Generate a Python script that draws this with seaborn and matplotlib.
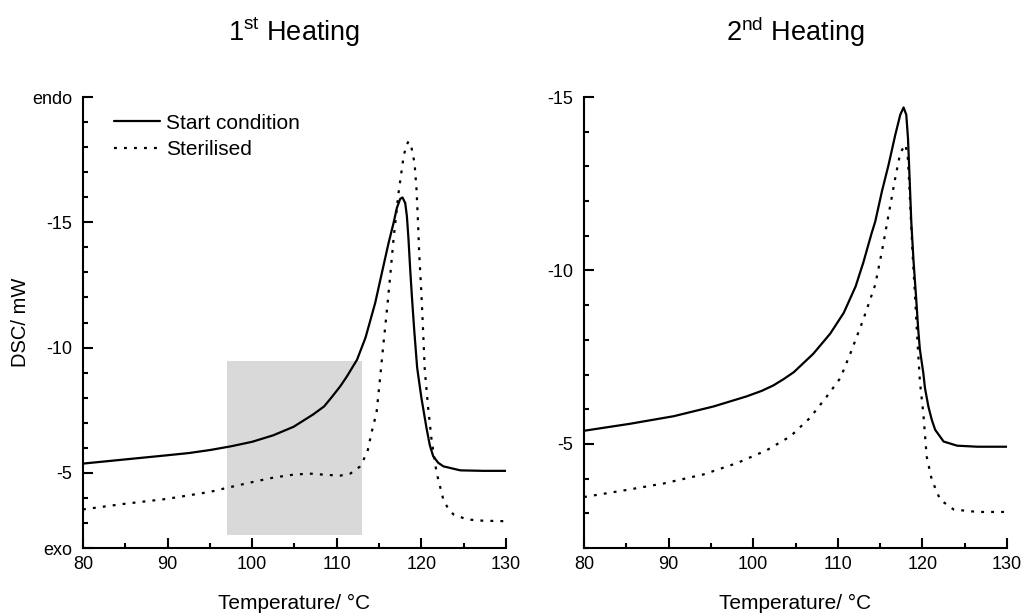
import numpy as np
import pandas as pd
import matplotlib
matplotlib.use("Agg")
import matplotlib.pyplot as plt
from matplotlib.ticker import MultipleLocator
import seaborn as sns

# 1st heating, start condition (temperature in degC, DSC in mW)
t1_start = [80, 84.8, 89.9, 92.5, 95.0, 97.5, 100.0, 102.5, 104.9, 107.2, 108.5, 109.4, 110.4,
            111.2, 112.4, 113.4, 114.54, 115.33, 116.12, 116.71, 117.1, 117.5, 117.77,
            118.09, 118.29, 118.48, 118.68, 118.88, 119.15, 119.5, 120.0, 120.6, 121.0,
            121.4, 122.0, 122.6, 124.6, 127.3, 130]
d1_start = [-5.37, -5.53, -5.70, -5.79, -5.91, -6.06, -6.24, -6.50, -6.84, -7.33, -7.65, -8.02,
            -8.45, -8.85, -9.52, -10.40, -11.78, -12.98, -14.17, -14.97, -15.57, -15.94, -15.99,
            -15.77, -15.24, -14.31, -13.11, -12.04, -10.72, -9.20, -8.00, -6.80, -6.10,
            -5.66, -5.40, -5.26, -5.10, -5.08, -5.08]

# 1st heating, sterilised
t1_ster = [80, 84.8, 89.9, 95.0, 97.0, 100.0, 102.5, 104.9, 106.8, 108.8, 110.4, 111.6,
           112.7, 113.6, 114.1, 114.7, 115.1, 115.5, 115.9, 116.3, 116.7, 117.3, 117.9,
           118.2, 118.48, 118.8, 119.19, 119.43, 119.59, 119.74, 119.98, 120.18, 120.4,
           120.8, 121.2, 121.8, 122.6, 123.2, 123.8, 125.4, 127.3, 130]
d1_ster = [-3.54, -3.76, -3.96, -4.24, -4.40, -4.63, -4.81, -4.93, -4.97, -4.92, -4.89, -4.97,
           -5.24, -5.80, -6.60, -7.40, -8.72, -10.10, -11.40, -12.80, -14.30, -16.17, -17.63,
           -18.05, -18.23, -18.03, -17.37, -16.30, -15.10, -13.78, -12.31, -10.85, -9.12,
           -7.60, -6.33, -5.00, -3.93, -3.55, -3.34, -3.14, -3.09, -3.07]

# 2nd heating, start condition
t2_start = [80, 85.4, 90.6, 95.3, 99.2, 101.0, 102.4, 103.6, 104.8, 107.1, 109.1, 110.7, 112.1,
            113.0, 114.0, 114.42, 115.21, 116.0, 116.79, 117.38, 117.77, 118.09, 118.29, 118.48,
            118.68, 118.95, 119.23, 119.5, 119.7, 120.1, 120.3, 120.7, 121.1, 121.5, 122.5,
            124.1, 126.5, 130]
d2_start = [-5.38, -5.58, -5.80, -6.08, -6.37, -6.53, -6.69, -6.87, -7.07, -7.60, -8.18, -8.78,
            -9.54, -10.22, -11.08, -11.41, -12.28, -13.05, -13.91, -14.49, -14.70, -14.49, -13.82,
            -12.67, -11.41, -10.26, -9.30, -8.30, -7.72, -7.05, -6.61, -6.08, -5.70, -5.41, -5.07,
            -4.95, -4.92, -4.92]

# 2nd heating, sterilised
t2_ster = [80, 84.7, 89.4, 94.1, 98.1, 101.6, 104.4, 106.7, 108.7, 110.3, 111.5, 113.0,
           114.42, 115.21, 116.0, 116.79, 117.38, 117.97, 118.25, 118.45, 118.65, 118.84,
           119.07, 119.4, 119.7, 120.1, 120.5, 121.1, 122.1, 123.7, 126.5, 130]
d2_ster = [-3.47, -3.66, -3.86, -4.12, -4.45, -4.82, -5.22, -5.75, -6.37, -6.90, -7.62, -8.58,
           -9.59, -10.55, -11.61, -12.67, -13.39, -13.63, -13.34, -12.47, -11.41, -10.46,
           -9.50, -8.01, -6.80, -5.89, -4.64, -3.97, -3.39, -3.11, -3.04, -3.04]

series_labels = ["Start condition", "Sterilised"]
panel_titles = [r"1$^{\mathrm{st}}$ Heating", r"2$^{\mathrm{nd}}$ Heating"]
x_label = "Temperature/ \u00b0C"
y_label = "DSC/ mW"

# shaded region in the first panel
shade_t = [97, 113]
shade_d = (-9.45, -2.5)

left_yticks = [-20, -15, -10, -5, -2]
left_yticklabels = ["endo", "-15", "-10", "-5", "exo"]
right_yticks = [-15, -10, -5]

sns.set_style("ticks")
plt.rcParams["font.family"] = ["Liberation Sans", "DejaVu Sans"]
plt.rcParams["mathtext.fontset"] = "custom"
plt.rcParams["mathtext.rm"] = "Liberation Sans"
plt.rcParams["axes.linewidth"] = 1.5
plt.rcParams["axes.unicode_minus"] = False
plt.rcParams["text.color"] = "black"
plt.rcParams["axes.labelcolor"] = "black"
plt.rcParams["xtick.color"] = "black"
plt.rcParams["ytick.color"] = "black"
plt.rcParams["axes.edgecolor"] = "black"

fig = plt.figure(figsize=(10.23, 6.13), dpi=100)
ax1 = fig.add_axes([0.0811, 0.106, 0.4135, 0.7357])
ax2 = fig.add_axes([0.5709, 0.106, 0.4135, 0.7357])

dotted = (0, (1.3, 3.2))

panels = [(ax1, t1_start, d1_start, t1_ster, d1_ster),
          (ax2, t2_start, d2_start, t2_ster, d2_ster)]

for ax, ts, ds, tt, dt in panels:
    df_s = pd.DataFrame({"T": ts, "DSC": ds})
    df_t = pd.DataFrame({"T": tt, "DSC": dt})
    sns.lineplot(data=df_s, x="T", y="DSC", ax=ax, color="black", lw=1.6,
                 label=series_labels[0])
    sns.lineplot(data=df_t, x="T", y="DSC", ax=ax, color="black", lw=1.6,
                 linestyle=dotted, label=series_labels[1])
    ax.set_xlim(80, 130)
    ax.xaxis.set_major_locator(MultipleLocator(10))
    ax.xaxis.set_minor_locator(MultipleLocator(5))
    ax.yaxis.set_minor_locator(MultipleLocator(1))
    ax.tick_params(which="major", direction="in", length=7, width=1.5,
                   labelsize=13, pad=7.5)
    ax.tick_params(which="minor", direction="in", length=3.5, width=1.5)
    ax.tick_params(axis="x", which="major", pad=6)
    sns.despine(ax=ax)
    ax.set_xlabel(x_label, fontsize=15, labelpad=14.5)
    ax.set_ylabel("")

ax1.fill_between(shade_t, shade_d[0], shade_d[1], color="#d9d9d9", lw=0, zorder=0)
ax1.set_ylim(-2, -20)
ax1.set_yticks(left_yticks)
ax1.set_yticklabels(left_yticklabels)
ax1.set_ylabel(y_label, fontsize=14.5, labelpad=2)

ax2.set_ylim(-2, -15)
ax2.set_yticks(right_yticks)
ax2.get_legend().remove()

ax1.legend(frameon=False, loc="upper left", bbox_to_anchor=(0.073, 0.963),
           borderpad=0, borderaxespad=0, handlelength=2.2, handletextpad=0.3,
           labelspacing=0.34, fontsize=15)

for ax, title in zip([ax1, ax2], panel_titles):
    ax.set_title(title, fontsize=19.5, pad=40)

fig.savefig("out.png", dpi=100)
